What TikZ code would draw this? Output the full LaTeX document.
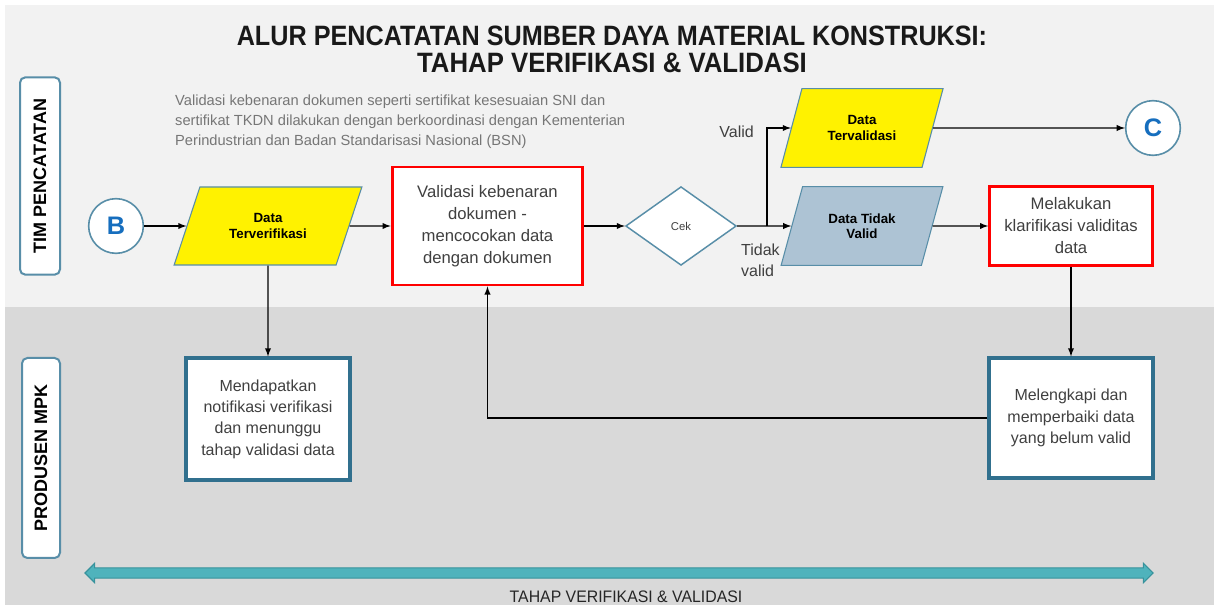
\documentclass[tikz,border=0pt]{standalone}
\usepackage{fontspec}
\setmainfont{Liberation Sans}
\usetikzlibrary{shapes.geometric,shapes.arrows,positioning,arrows}
\definecolor{laneTop}{RGB}{242,242,242}
\definecolor{laneBot}{RGB}{217,217,217}
\definecolor{edgeBlue}{RGB}{88,142,168}
\definecolor{darkTeal}{RGB}{49,112,142}
\definecolor{ribbon}{RGB}{79,179,188}
\definecolor{ribbonEdge}{RGB}{55,146,156}
\definecolor{paleSteel}{RGB}{173,195,212}
\definecolor{letterBlue}{RGB}{22,110,190}
\definecolor{noteGray}{RGB}{118,118,118}
\definecolor{bodyText}{RGB}{64,64,64}

\begin{document}
\begin{tikzpicture}[>=latex,x=.75pt,y=-.75pt,text centered,line width=1.1pt,
  font=\fontsize{12}{15.5}\selectfont]
\useasboundingbox (0,0) rectangle (1214,605);
\fill[white] (0,0) rectangle (1214,605);
\fill[laneTop] (5,5) rectangle (1214,307);
\fill[laneBot] (5,307) rectangle (1214,605);

% lanes
\tikzstyle{every node}=[draw=edgeBlue,fill=white,rounded corners=4pt,line 
width=1.5pt,rotate=90,font=\bfseries\fontsize{13.5}{16}\selectfont]
\draw (40,176) node[minimum width=148pt,minimum height=30pt] (timlane) {TIM PENCATATAN};
\draw (41,458) node[minimum width=150pt,minimum height=28.5pt] (mpklane) {PRODUSEN MPK};

% connectors B and C
\tikzstyle{every node}=[draw=edgeBlue,fill=white,circle,line width=1.2pt,minimum 
size=41pt,text=letterBlue,font=\bfseries\fontsize{19}{19}\selectfont]
\draw (116,226) node[] (b) {B};
\draw (1153,128) node[] (c) {C};

% data
\tikzstyle{every node}=[draw=edgeBlue,trapezium,trapezium stretches=true,line 
width=.8pt,align=center,font=\bfseries\fontsize{10}{11.5}\selectfont]
\draw (268,226) node[fill=yellow,trapezium left angle=64,trapezium right angle=116,
  minimum width=142pt,minimum height=58.5pt] (verif) {Data\\Terverifikasi};
\draw (862,128) node[fill=yellow,trapezium left angle=68,trapezium right angle=112,
  minimum width=122pt,minimum height=59pt] (tervalid) {Data\\Tervalidasi};
\draw (862,226) node[fill=paleSteel,trapezium left angle=68,trapezium right angle=112,
  minimum width=122pt,minimum height=59pt] (tidak) {Data Tidak\\Valid};

% process
\tikzstyle{every node}=[draw=red,fill=white,line width=2.2pt,align=center,text=bodyText,
  font=\fontsize{12.5}{16.5}\selectfont]
\draw (487.5,226) node[minimum width=143pt,minimum height=88.5pt] (valkb) {Validasi kebenaran\\dokumen -\\mencocokan data\\dengan dokumen};
\draw (1071,226) node[minimum width=122pt,minimum height=59pt] (klar) {Melakukan\\klarifikasi validitas\\data};
\tikzstyle{every node}=[draw=darkTeal,fill=white,line width=2.4pt,align=center,text=bodyText,
  font=\fontsize{12}{16}\selectfont]
\draw (268,419) node[minimum width=123pt,minimum height=91.5pt] (mend) {Mendapatkan\\notifikasi verifikasi\\dan menunggu\\tahap validasi data};
\draw (1071,418) node[minimum width=123pt,minimum height=90pt] (meleng) {Melengkapi dan\\memperbaiki data\\yang belum valid};

\draw (681,226) node[draw=edgeBlue,line width=1.1pt,diamond,aspect=1.4,inner sep=0pt,
  minimum width=83pt,minimum height=59pt,font=\fontsize{8.5}{10}\selectfont] (cek) {Cek};

\tikzstyle{every node}=[]
\draw (612,36) node[text=black!90,font=\bfseries\fontsize{21}{21}\selectfont] (title) {\scalebox{.9}[1]{ALUR PENCATATAN SUMBER DAYA MATERIAL KONSTRUKSI:}};
\draw (612,63) node[text=black!90,font=\bfseries\fontsize{21}{21}\selectfont] (subtitle) {\scalebox{.92}[1]{TAHAP VERIFIKASI \& VALIDASI}};
\draw (170,122) node[anchor=west,align=left,text=noteGray,font=\fontsize{11}{15}\selectfont] (note) {Validasi kebenaran dokumen seperti sertifikat kesesuaian SNI dan\\sertifikat TKDN dilakukan dengan berkoordinasi dengan Kementerian\\Perindustrian dan Badan Standarisasi Nasional (BSN)};
\draw (759,132) node[anchor=east,text=bodyText] (yes) {Valid};
\draw (736,260) node[anchor=west,align=left,text=bodyText] (no) {Tidak\\valid};
\draw (619,573) node[double arrow,fill=ribbon,draw=ribbonEdge,line width=.8pt,inner sep=3.4pt,
  double arrow head extend=3.4pt,minimum height=801pt] (stage) {};
\draw (626,597) node[text=black!85,font=\fontsize{12.5}{14}\selectfont] (stagelbl) {\scalebox{.95}[1]{TAHAP VERIFIKASI \& VALIDASI}};

\coordinate (split) at (767,226);

\draw[->] (b) -- (verif);
\draw[->] (verif) -- (valkb);
\draw[->] (valkb) -- (cek);
\draw[->] (cek) -- (tidak);
\draw[->] (split) |- (tervalid);
\draw[->] (tervalid) -- (c);
\draw[->] (tidak) -- (klar);
\draw[->] (klar) -- (meleng);
\draw[->] (verif) -- (mend);
\draw[->] (meleng.west) -| (valkb.south);

\end{tikzpicture}
\end{document}
